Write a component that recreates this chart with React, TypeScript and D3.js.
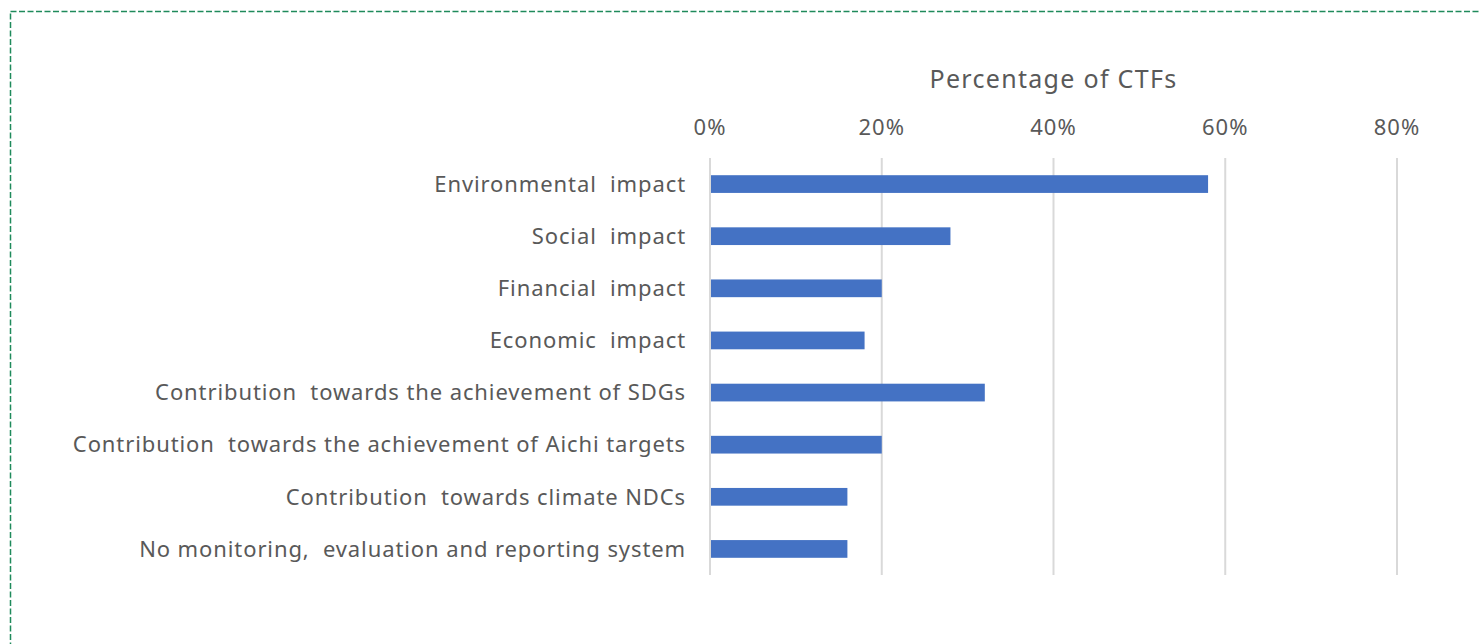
import React, { useEffect, useRef } from 'react';
import * as d3 from 'd3';

const categories = [
  'Environmental  impact',
  'Social  impact',
  'Financial  impact',
  'Economic  impact',
  'Contribution  towards the achievement of SDGs',
  'Contribution  towards the achievement of Aichi targets',
  'Contribution  towards climate NDCs',
  'No monitoring,  evaluation and reporting system',
];
const values = [58, 28, 20, 18, 32, 20, 16, 16];
const ticks = [0, 20, 40, 60, 80];
const axisTitle = 'Percentage of CTFs';

const App = () => {
  const ref = useRef<SVGSVGElement>(null);

  useEffect(() => {
    const width = 1479;
    const height = 644;
    const font = '"Noto Sans", "Open Sans", sans-serif';
    const textColor = '#595959';

    const svg = d3.select(ref.current);
    svg.selectAll('*').remove();

    // dashed frame, runs off right/bottom like the original
    svg.append('rect')
      .attr('x', 10.5)
      .attr('y', 11.5)
      .attr('width', width + 20)
      .attr('height', height + 20)
      .attr('fill', 'none')
      .attr('stroke', '#1f8a5b')
      .attr('stroke-width', 1.5)
      .attr('stroke-dasharray', '6 2.5');

    const x = d3.scaleLinear().domain([0, 80]).range([710, 1397]);
    const y = d3.scaleBand().domain(categories).range([158, 575]).paddingInner(0.66).paddingOuter(0.33);

    const grid = svg.append('g');
    grid.selectAll('line')
      .data(ticks)
      .enter().append('line')
      .attr('x1', d => x(d))
      .attr('x2', d => x(d))
      .attr('y1', 158)
      .attr('y2', 575)
      .attr('stroke', '#d9d9d9')
      .attr('stroke-width', 2);

    grid.selectAll('text')
      .data(ticks)
      .enter().append('text')
      .attr('x', d => x(d))
      .attr('y', 135)
      .attr('text-anchor', 'middle')
      .style('font-family', font)
      .style('font-size', '22px')
      .style('letter-spacing', '1px')
      .style('fill', textColor)
      .text(d => d + '%');

    svg.append('text')
      .attr('x', x(40))
      .attr('y', 88)
      .attr('text-anchor', 'middle')
      .style('font-family', font)
      .style('font-size', '25px')
      .style('letter-spacing', '1.3px')
      .style('fill', textColor)
      .text(axisTitle);

    svg.append('g').selectAll('rect')
      .data(values)
      .enter().append('rect')
      .attr('x', x(0) + 1)
      .attr('y', (d, i) => y(categories[i]) as number)
      .attr('width', d => x(d) - x(0) - 1)
      .attr('height', y.bandwidth())
      .attr('fill', '#4472c4');

    svg.append('g').selectAll('text')
      .data(categories)
      .enter().append('text')
      .attr('x', 686)
      .attr('y', d => (y(d) as number) + y.bandwidth() / 2)
      .attr('dy', '0.35em')
      .attr('text-anchor', 'end')
      .style('font-family', font)
      .style('font-size', '22px')
      .style('letter-spacing', '0.9px')
      .style('white-space', 'pre')
      .style('fill', textColor)
      .text(d => d);
  }, []);

  return (
    <svg ref={ref} width={1479} height={644}
      style={{ position: 'absolute', left: 0, top: 0, background: '#fff' }} />
  );
};

export default App;
